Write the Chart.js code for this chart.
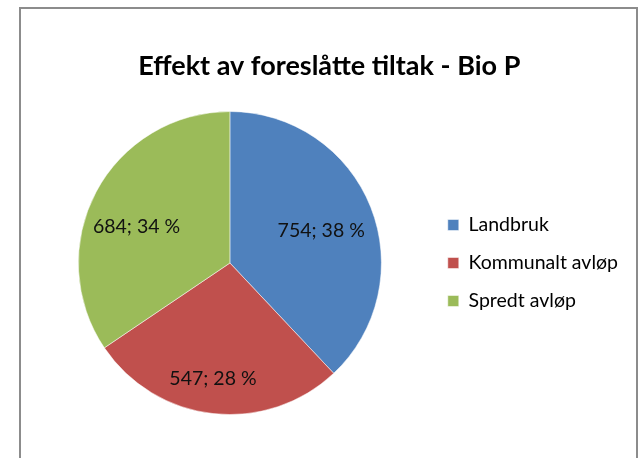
<!DOCTYPE html>
<html>
<head>
<meta charset="utf-8">
<script src="https://cdn.jsdelivr.net/npm/chart.js@4.4.1/dist/chart.umd.min.js"></script>
<style>
html,body{margin:0;padding:0;background:#fff;}
canvas{display:block;}
</style>
</head>
<body>
<canvas id="pieChart" width="639" height="458"></canvas>
<script>
// data
let categories = ["Landbruk", "Kommunalt avløp", "Spredt avløp"];
let values = [754, 547, 684];
let colors = ["#4F81BD", "#C0504D", "#9BBB59"];
let chartTitle = "Effekt av foreslåtte tiltak - Bio P";

// where each label sits inside its slice (fraction of radius, angle nudge in degrees)
let labelRadius = [0.64, 0.77, 0.66];
let labelNudge = [2, 2, -7];

/* frame around the chart, like the Excel chart border */
let framePlugin = {
  id: "frame",
  beforeDraw(chart){
    let ctx = chart.ctx;
    ctx.save();
    ctx.fillStyle = "#fff";
    ctx.fillRect(0, 0, chart.width, chart.height);
    ctx.strokeStyle = "#8c8c8c";
    ctx.lineWidth = 2;
    ctx.beginPath();
    ctx.moveTo(20, 470);
    ctx.lineTo(20, 8);
    ctx.lineTo(637, 8);
    ctx.lineTo(637, 470);
    ctx.stroke();
    ctx.restore();
  }
};

/* "value; pct %" labels inside the slices */
let sliceLabels = {
  id: "sliceLabels",
  afterDatasetsDraw(chart){
    let ctx = chart.ctx;
    let total = values.reduce((a,b)=>a+b, 0);
    let meta = chart.getDatasetMeta(0);
    ctx.save();
    ctx.font = "19.5px Lato";
    ctx.fillStyle = "#111";
    ctx.textAlign = "center";
    ctx.textBaseline = "middle";
    meta.data.forEach((arc, i)=>{
      let mid = (arc.startAngle + arc.endAngle) / 2 + labelNudge[i] * Math.PI / 180;
      let r = arc.outerRadius * labelRadius[i];
      let x = arc.x + Math.cos(mid) * r;
      let y = arc.y + Math.sin(mid) * r;
      let pct = Math.round(values[i] / total * 100);
      ctx.fillText(values[i] + "; " + pct + " %", x, y);
    });
    ctx.restore();
  }
};

new Chart(document.getElementById("pieChart"), {
  type: "pie",
  data: {
    labels: categories,
    datasets: [{
      data: values,
      backgroundColor: colors,
      borderColor: "rgba(255,255,255,0.5)",
      borderWidth: 1
    }]
  },
  options: {
    responsive: false,
    animation: false,
    layout: {
      padding: { left: 30.5, right: 11, top: 0, bottom: 43 }
    },
    plugins: {
      title: {
        display: true,
        text: chartTitle,
        color: "#000",
        font: { family: "Lato", size: 27, weight: "bold" },
        padding: { top: 50, bottom: 28.6 }
      },
      legend: {
        position: "right",
        fullSize: false,
        labels: {
          color: "#000",
          font: { family: "Lato", size: 19.5 },
          boxWidth: 11,
          boxHeight: 11,
          padding: 18.5
        }
      },
      tooltip: { enabled: false }
    }
  },
  plugins: [framePlugin, sliceLabels]
});
</script>
</body>
</html>
